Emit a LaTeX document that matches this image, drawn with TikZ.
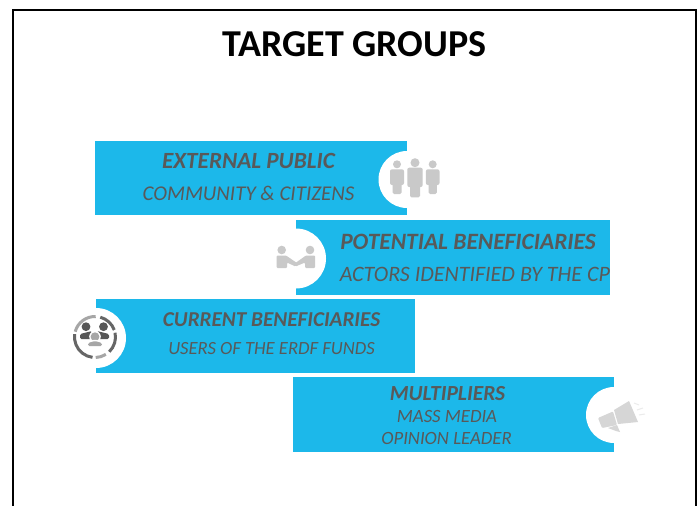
\documentclass[tikz,border=0pt]{standalone}
\usepackage{fontspec}
\setmainfont{Carlito}
\definecolor{bar}{HTML}{1CB8EA}
\definecolor{ink}{HTML}{595959}
\definecolor{icon}{HTML}{C9C9C9}
\definecolor{dark}{HTML}{666666}
\definecolor{mid}{HTML}{A6A6A6}
\definecolor{mega}{HTML}{D6D6D6}
\tikzset{
  bar/.style={fill=bar,draw=none},
  hole/.style={fill=white,draw=none},
  head/.style={text=ink,font=\bfseries\itshape\fontsize{#1}{#1}\selectfont,inner sep=0pt},
  sub/.style={text=ink,font=\itshape\fontsize{#1}{#1}\selectfont,inner sep=0pt,align=center},
  ring/.style={line width=3pt}
}
\newcommand{\person}[9]{% cx, heady, r, body half w, body top, body bottom, leg half w, leg bottom, colour
  \fill[#9] (#1,#2) circle (#3);
  \fill[#9,rounded corners=2] (#1-#4,#5) rectangle (#1+#4,#6);
  \fill[#9,rounded corners=1.5] (#1-#7,#6-6) rectangle (#1+#7,#8);}
\begin{document}
\begin{tikzpicture}[x=1pt,y=-1pt]
\useasboundingbox (0,0) rectangle (697,506);
\draw[black,line width=2pt] (13,520) -- (13,10) -- (696,10) -- (696,520);
\clip (0,0) rectangle (697,506);
\node[text=black,font=\bfseries\fontsize{38}{38}\selectfont,inner sep=0pt] (title) at (354.5,44) {TARGET GROUPS};
% bars
\fill[bar] (95,141) rectangle (407,215);
\fill[bar] (296,220) rectangle (610,295);
\fill[bar] (96,299) rectangle (415,373);
\fill[bar] (293,377) rectangle (614,452);
% holes
\fill[hole] (407,179.5) circle (28.5);
\fill[hole] (296,258.5) circle (30);
\fill[hole] (96,338) circle (30);
\fill[hole] (614,415) circle (28);
% icon 1
\person{397}{164.3}{4}{7}{169.3}{185}{4.5}{194}{icon}
\person{415}{162.7}{4.5}{7.7}{167.7}{187}{5}{197.3}{icon}
\person{432.7}{164.3}{4}{6.8}{169.3}{185}{4.2}{194}{icon}
% icon 2: handshake
\fill[icon] (281.7,250) circle (4.3);
\fill[icon] (310,250) circle (4.3);
\fill[icon,rounded corners=1] (276.7,255.5) -- (286,255.5) -- (297,263) -- (295.5,266.5) -- (287,262.5) -- (287,268) -- (276.7,268) -- cycle;
\fill[icon,rounded corners=1] (315,255.5) -- (306,255.5) -- (294,264) -- (295.5,266.5) -- (305,262.5) -- (305,268) -- (315,268) -- cycle;
% icon 3: group in ring
\draw[dark,ring] (95,337) ++(188:20.5) arc (188:97:20.5);
\draw[mid,ring] (95,337) ++(88:20.5) arc (88:58:20.5);
\draw[dark,ring] (95,337) ++(46:20.5) arc (46:-12:20.5);
\draw[dark,ring] (95,337) ++(-20:20.5) arc (-20:-75:20.5);
\draw[mid,ring] (95,337) ++(-88:20.5) arc (-88:-165:20.5);
\fill[dark!85!black] (86,326.7) circle (4.4);
\fill[dark!85!black] (103.5,326.7) circle (4.4);
\fill[dark!85!black,rounded corners=1.5] (80,339) -- (80,334) -- (92,331) -- (92,339) -- cycle;
\fill[dark!85!black,rounded corners=1.5] (97,339) -- (97,331) -- (109,334) -- (109,339) -- cycle;
\fill[white] (95,336.7) circle (5.8);
\fill[mid] (95,336.7) circle (4.4);
\fill[white,rounded corners=1.5] (86.5,346.5) -- (86.5,342) -- (95,339.5) -- (103.5,342) -- (103.5,346.5) -- cycle;
\fill[mid,rounded corners=1.5] (88,346) -- (88,343) -- (95,341) -- (102,343) -- (102,346) -- cycle;
% icon 4: megaphone
\fill[mega] (614,410) -- (629,401) -- (638,422) -- (618,424) -- cycle;
\fill[mega,rounded corners=1] (598,418) -- (613,411.5) -- (617,425) -- (602,428) -- cycle;
\fill[mega] (608,428) -- (617,425) -- (620,432) -- (616,431) -- cycle;
\draw[mega!50!white,line width=1pt] (634,403) -- (639,405);
\draw[mega!50!white,line width=1pt] (637,410) -- (643,408);
\draw[mega!50!white,line width=1pt] (639,415) -- (645,414);
% texts
\node[head=23.2] (h1) at (248.5,161) {EXTERNAL PUBLIC};
\node[sub=21] (s1) at (248.5,193) {COMMUNITY \& CITIZENS};
\node[head=23.4] (h2) at (468,242) {POTENTIAL BENEFICIARIES};
\node[sub=22] (s2) at (475,274) {ACTORS IDENTIFIED BY THE CP};
\node[head=21.2] (h3) at (271.5,320) {CURRENT BENEFICIARIES};
\node[sub=18.6] (s3) at (271.5,348.5) {USERS OF THE ERDF FUNDS};
\node[head=21.5] (h4) at (447.5,394) {MULTIPLIERS};
\node[sub=18.7] (s4a) at (447,417) {MASS MEDIA};
\node[sub=18.7] (s4b) at (446.5,438) {OPINION LEADER};
\end{tikzpicture}
\end{document}
